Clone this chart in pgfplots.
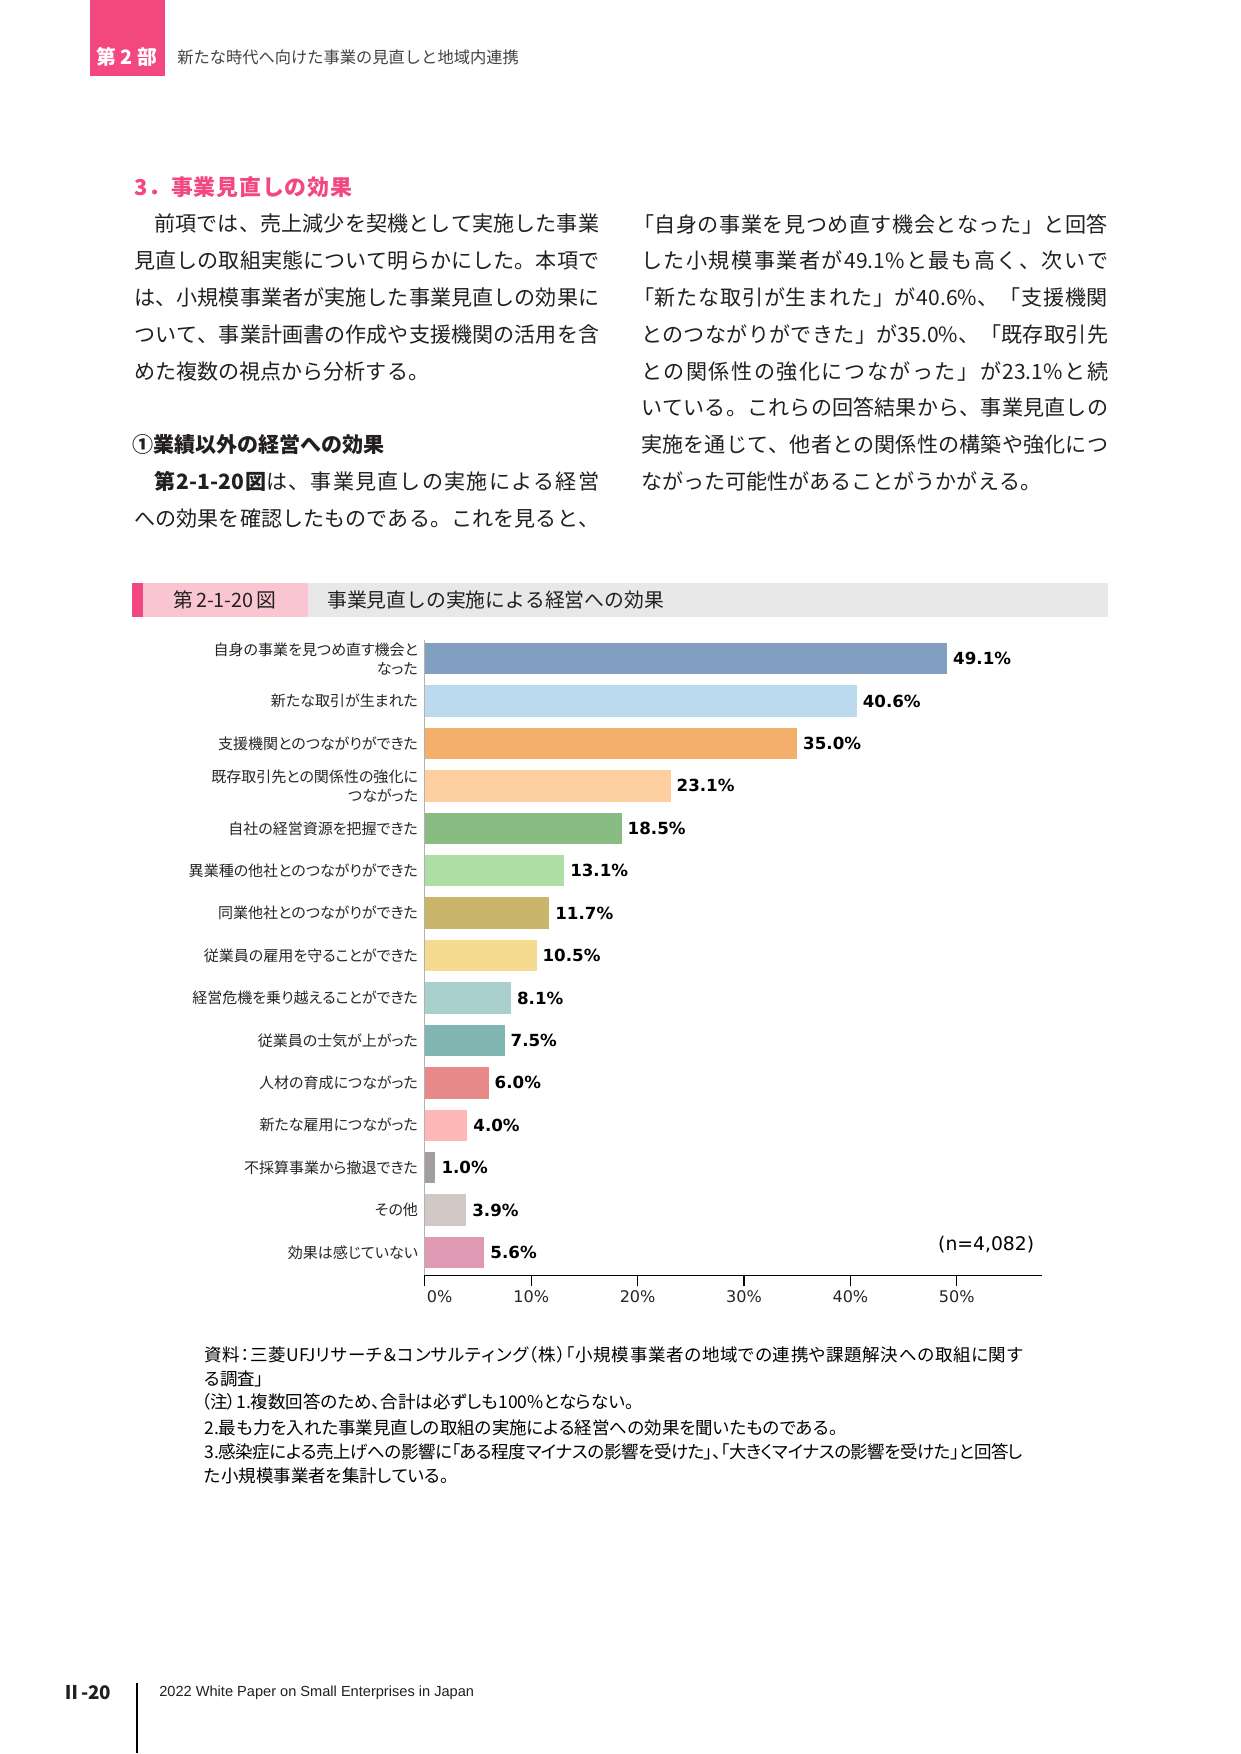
\documentclass[border=0pt]{standalone}
\usepackage{fontspec}
\usepackage{pgfplots}
\pgfplotsset{compat=1.18}
\setmainfont{Noto Sans CJK JP}
\newfontfamily\jp{Noto Sans CJK JP}
\newfontfamily\jpp{Noto Sans CJK JP}[RawFeature=+palt]
\newfontfamily\dv{DejaVu Sans}
\newfontfamily\lib{Liberation Sans}
\newcount\cc
\def\setcls#1#2{\cc=#1\relax\loop\XeTeXcharclass\cc=1\relax\ifnum\cc<#2\advance\cc by 1\repeat}
\setcls{"3000}{"30FF}
\setcls{"4E00}{"9FFF}
\setcls{"FF00}{"FFEF}
\XeTeXinterchartokenstate=1
\def\icg{\hskip0pt plus 1pt minus 0.5pt\relax}
\XeTeXinterchartoks 1 1 = {\icg}
\XeTeXinterchartoks 0 1 = {\icg}
\XeTeXinterchartoks 1 0 = {\icg}
\newcommand\fs[2]{\fontsize{#1}{#2}\selectfont}
\definecolor{pinkA}{HTML}{F2477F}
\definecolor{pinkL}{HTML}{FAC5D3}
\definecolor{grayL}{HTML}{E8E8E8}
\definecolor{bodyc}{HTML}{231F20}
\definecolor{c1}{HTML}{809FC1}
\definecolor{c2}{HTML}{BCDAED}
\definecolor{c3}{HTML}{F4B06B}
\definecolor{c4}{HTML}{FED0A0}
\definecolor{c5}{HTML}{88BC83}
\definecolor{c6}{HTML}{ADDEA4}
\definecolor{c7}{HTML}{CAB66B}
\definecolor{c8}{HTML}{F5DA90}
\definecolor{c9}{HTML}{A9D0CC}
\definecolor{c10}{HTML}{80B7B3}
\definecolor{c11}{HTML}{E88989}
\definecolor{c12}{HTML}{FEB8B8}
\definecolor{c13}{HTML}{A39E9E}
\definecolor{c14}{HTML}{D1C8C6}
\definecolor{c15}{HTML}{E09AB3}
\newcommand\jl[2]{\makebox[#1][s]{#2}}
\begin{document}
\begin{tikzpicture}
\begin{scope}[x=0.4795pt,y=-0.4795pt]
\fill[white] (0,0) rectangle (1241,1754);
% header
\fill[pinkA] (90,0) rectangle (165,76);
\node[text=white,font=\jp\bfseries\fs{9.5}{11},inner sep=0pt] at (127,57) {第 2 部};
\node[anchor=west,inner sep=0pt,text=bodyc!85,font=\jp\fs{7.8}{9}] at (177,57) {新たな時代へ向けた事業の見直しと地域内連携};
% heading
\node[anchor=west,inner sep=0pt,text=pinkA,font=\jp\bfseries\fs{10.5}{12}] at (134,187) {\jl{104.5pt}{3．事業見直しの効果}};
\begin{scope}[every node/.style={anchor=west,inner sep=0pt,text=bodyc,font=\jp\fs{10.1}{12}}]
\node at (154,224) {\jl{213.4pt}{前項では、売上減少を契機として実施した事業}};
\node at (134,261) {\jl{223pt}{見直しの取組実態について明らかにした。本項で}};
\node at (134,298) {\jl{223pt}{は、小規模事業者が実施した事業見直しの効果に}};
\node at (134,335) {\jl{223pt}{ついて、事業計画書の作成や支援機関の活用を含}};
\node at (134,372) {めた複数の視点から分析する。};
\node[font=\jp\bfseries\fs{10.1}{12}] at (132,445) {①業績以外の経営への効果};
\node at (154,482) {\jl{213.4pt}{{\bfseries 第2-1-20図}は、事業見直しの実施による経営}};
\node at (134,519) {\jl{223pt}{への効果を確認したものである。これを見ると、}};
\node at (633,224) {\jl{227.8pt}{「自身の事業を見つめ直す機会となった」と回答}};
\node at (641,261) {\jl{224pt}{した小規模事業者が49.1\%と最も高く、次いで}};
\node at (633,298) {\jl{227.8pt}{「新たな取引が生まれた」が40.6\%、「支援機関}};
\node at (641,335) {\jl{224pt}{とのつながりができた」が35.0\%、「既存取引先}};
\node at (641,372) {\jl{224pt}{との関係性の強化につながった」が23.1\%と続}};
\node at (641,408) {\jl{224pt}{いている。これらの回答結果から、事業見直しの}};
\node at (641,445) {\jl{224pt}{実施を通じて、他者との関係性の構築や強化につ}};
\node at (641,482) {ながった可能性があることがうかがえる。};
\end{scope}
% figure title bar
\fill[pinkA] (132,583) rectangle (143,617);
\fill[pinkL] (143,583) rectangle (308,617);
\fill[grayL] (308,583) rectangle (1108,617);
\node[inner sep=0pt,text=bodyc,font=\jp\fs{9.5}{11}] at (225,600) {第\kern1.5pt 2-1-20\kern1.5pt 図};
\node[anchor=west,inner sep=0pt,text=bodyc,font=\jp\fs{9.5}{11}] at (327,600) {事業見直しの実施による経営への効果};
% n
\node[anchor=east,inner sep=0pt,text=black,font=\dv\fs{9}{11}] at (1035,1245) {(n=4,082)};
% notes
\begin{scope}[every node/.style={anchor=west,inner sep=0pt,text=black,font=\jpp\fs{8.4}{10}}]
\node at (204,1355) {\jl{392.7pt}{資料：三菱UFJリサーチ＆コンサルティング（株）「小規模事業者の地域での連携や課題解決への取組に関す}};
\node at (204,1379) {る調査」};
\node at (201,1402) {（注）1.複数回答のため、合計は必ずしも100\%とならない。};
\node at (204,1428) {2.最も力を入れた事業見直しの取組の実施による経営への効果を聞いたものである。};
\node at (204,1452) {\jl{392.7pt}{3.感染症による売上げへの影響に「ある程度マイナスの影響を受けた」、「大きくマイナスの影響を受けた」と回答し}};
\node at (204,1476) {た小規模事業者を集計している。};
\end{scope}
% footer
\node[anchor=west,inner sep=0pt,text=bodyc,font=\jp\bfseries\fs{9}{11}] at (62,1693) {Ⅱ-20};
\draw[black,line width=0.7pt] (137,1684) -- (137,1754);
\node[anchor=west,inner sep=0pt,text=bodyc,font=\lib\fs{7}{8}] at (159,1693) {2022 White Paper on Small Enterprises in Japan};
\end{scope}
\begin{axis}[
  at={(203.8pt,-611.8pt)}, anchor=south west,
  scale only axis, width=296pt, height=305pt,
  xbar, bar width=0.74, bar shift=0pt,
  xmin=0, xmax=58, ymin=-0.54, ymax=14.45,
  axis x line*=bottom, axis y line*=left,
  x axis line style={black,line width=0.6pt,-},
  y axis line style={black!30,line width=0.5pt,-},
  xtick={0,10,20,30,40,50},
  xticklabels={{\makebox[0pt][l]{\kern1pt 0\%}},10\%,20\%,30\%,40\%,50\%},
  tick align=outside, major tick length=5.3pt,
  xtick style={black,line width=0.5pt},
  ytick={0,...,14},
  ytick style={draw=none},
  yticklabels={効果は感じていない,その他,不採算事業から撤退できた,新たな雇用につながった,人材の育成につながった,従業員の士気が上がった,経営危機を乗り越えることができた,従業員の雇用を守ることができた,同業他社とのつながりができた,異業種の他社とのつながりができた,自社の経営資源を把握できた,{既存取引先との関係性の強化に\\つながった},支援機関とのつながりができた,新たな取引が生まれた,{自身の事業を見つめ直す機会と\\なった}},
  yticklabel style={font=\jpp\fs{7.2}{9.1},align=right,inner sep=0pt,xshift=2.2pt,text=black!85},
  xticklabel style={font=\dv\fs{7.7}{9},inner sep=0pt,anchor=north,yshift=-2pt,text=black!85},
  /pgf/number format/assume math mode=true,
  point meta=x,
  nodes near coords={\pgfmathprintnumber[fixed,fixed zerofill,precision=1]{\pgfplotspointmeta}\%},
  nodes near coords style={font=\dv\bfseries\fs{8}{9},anchor=west,inner sep=0pt,xshift=2.7pt,text=black},
  clip=false,
  every axis plot/.append style={draw=none},
]
\addplot[fill=c1,draw=none,bar shift=0pt] coordinates {(49.1,14)};
\addplot[fill=c2,draw=none,bar shift=0pt] coordinates {(40.6,13)};
\addplot[fill=c3,draw=none,bar shift=0pt] coordinates {(35.0,12)};
\addplot[fill=c4,draw=none,bar shift=0pt] coordinates {(23.1,11)};
\addplot[fill=c5,draw=none,bar shift=0pt] coordinates {(18.5,10)};
\addplot[fill=c6,draw=none,bar shift=0pt] coordinates {(13.1,9)};
\addplot[fill=c7,draw=none,bar shift=0pt] coordinates {(11.7,8)};
\addplot[fill=c8,draw=none,bar shift=0pt] coordinates {(10.5,7)};
\addplot[fill=c9,draw=none,bar shift=0pt] coordinates {(8.1,6)};
\addplot[fill=c10,draw=none,bar shift=0pt] coordinates {(7.5,5)};
\addplot[fill=c11,draw=none,bar shift=0pt] coordinates {(6.0,4)};
\addplot[fill=c12,draw=none,bar shift=0pt] coordinates {(4.0,3)};
\addplot[fill=c13,draw=none,bar shift=0pt] coordinates {(1.0,2)};
\addplot[fill=c14,draw=none,bar shift=0pt] coordinates {(3.9,1)};
\addplot[fill=c15,draw=none,bar shift=0pt] coordinates {(5.6,0)};
\end{axis}
\end{tikzpicture}
\end{document}
